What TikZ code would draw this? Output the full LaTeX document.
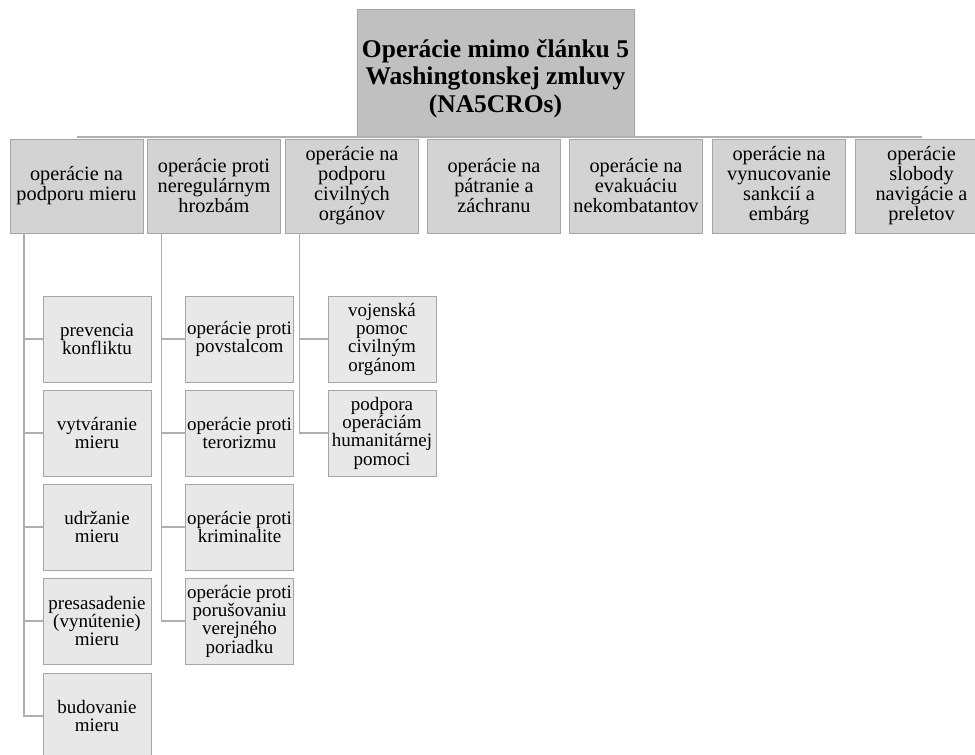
\documentclass[tikz,border=0pt]{standalone}
\usepackage{fontspec}
\setmainfont{Liberation Serif}
\newfontfamily\timesfam{Liberation Serif}
\usepackage{tikz}
\usetikzlibrary{positioning, calc}
\usepackage{xcolor}

\definecolor{rootfill}{RGB}{192,192,192}
\definecolor{onefill}{RGB}{211,211,211}
\definecolor{twofill}{RGB}{232,232,232}
\definecolor{boxline}{RGB}{165,165,165}
\definecolor{connline}{RGB}{175,175,175}

\tikzset{
    rootbox/.style={draw=boxline, fill=rootfill, line width=1pt,
        minimum width=277pt, minimum height=128pt, outer sep=0pt},
    roottext/.style={align=center, inner sep=0pt,
        font=\timesfam\fontsize{25.5}{27.5}\selectfont\bfseries},
    onebox/.style={draw=boxline, fill=onefill, line width=1pt, align=center,
        minimum width=133pt, minimum height=94pt, inner sep=1pt, outer sep=0pt,
        font=\timesfam\fontsize{20.3}{20}\selectfont},
    twobox/.style={draw=boxline, fill=twofill, line width=1pt, align=center,
        minimum width=108pt, minimum height=86pt, inner sep=1pt, outer sep=0pt,
        font=\timesfam\fontsize{19}{18.3}\selectfont},
    conn/.style={draw=connline, line width=1.5pt}
}

\begin{document}
\begin{tikzpicture}[x=1pt, y=-1pt]
    \useasboundingbox (0,0) rectangle (975,755);

    % Root
    \node[rootbox] (root) at (495.5, 73) {};
    \node[roottext] (roottitle) at ($(root.center)+(0,5.5)$) {Operácie mimo článku 5\\Washingtonskej zmluvy\\(NA5CROs)};

    % First level
    \node[onebox] (mier) at (76.5, 186) {operácie na\\podporu mieru};
    \node[onebox] (hrozby) at (214, 186) {operácie proti\\neregulárnym\\hrozbám};
    \node[onebox] (civil) at (352, 186) {operácie na\\podporu\\civilných\\orgánov};
    \node[onebox] (patranie) at (494, 186) {operácie na\\pátranie a\\záchranu};
    \node[onebox] (evakuacia) at (636, 186) {operácie na\\evakuáciu\\nekombatantov};
    \node[onebox] (sankcie) at (779, 186) {operácie na\\vynucovanie\\sankcií a\\embárg};
    \node[onebox] (navigacia) at (921.5, 186) {operácie\\slobody\\navigácie a\\preletov};

    % Second level: podpora mieru
    \node[twobox] (mier1) at (97, 339) {prevencia\\konfliktu};
    \node[twobox] (mier2) at (97, 433) {vytváranie\\mieru};
    \node[twobox] (mier3) at (97, 527) {udržanie\\mieru};
    \node[twobox] (mier4) at (97, 621) {presasadenie\\(vynútenie)\\mieru};
    \node[twobox] (mier5) at (97, 716) {budovanie\\mieru};

    % Second level: neregularne hrozby
    \node[twobox] (hroz1) at (239.5, 339) {operácie proti\\povstalcom};
    \node[twobox] (hroz2) at (239.5, 433) {operácie proti\\terorizmu};
    \node[twobox] (hroz3) at (239.5, 527) {operácie proti\\kriminalite};
    \node[twobox] (hroz4) at (239.5, 621) {operácie proti\\porušovaniu\\verejného\\poriadku};

    % Second level: civilne organy
    \node[twobox] (civ1) at (382, 339) {vojenská\\pomoc\\civilným\\orgánom};
    \node[twobox] (civ2) at (382, 433) {podpora\\operáciám\\humanitárnej\\pomoci};

    % Connectors
    \draw[conn] ([yshift=2pt]mier.north) -- ([yshift=2pt]navigacia.north);
    \foreach \c in {mier1, mier2, mier3, mier4, mier5}
        \draw[conn] ([xshift=14pt]mier.south west) |- (\c.west);
    \foreach \c in {hroz1, hroz2, hroz3, hroz4}
        \draw[conn] ([xshift=14pt]hrozby.south west) |- (\c.west);
    \foreach \c in {civ1, civ2}
        \draw[conn] ([xshift=14pt]civil.south west) |- (\c.west);
\end{tikzpicture}
\end{document}
